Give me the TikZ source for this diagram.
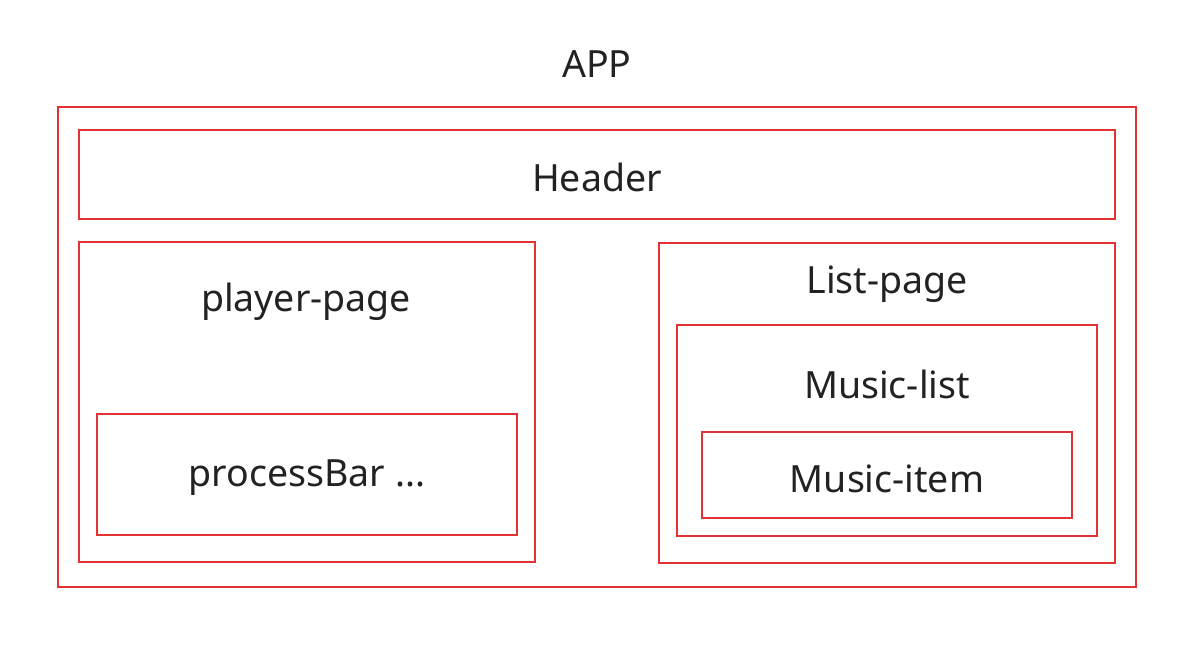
\documentclass[tikz,border=0pt]{standalone}
\usepackage{fontspec}
\setmainfont{Noto Sans}
\definecolor{framered}{RGB}{226,50,50}
\definecolor{inkgray}{RGB}{34,34,34}
\begin{document}
\begin{tikzpicture}[x=1pt,y=-1pt,
  frame/.style={draw=framered,line width=1.8pt,rectangle,inner sep=0pt},
  caption/.style={font=\fontsize{37.5}{40}\selectfont,text=inkgray,inner sep=0pt}]
\useasboundingbox (0,0) rectangle (1192,646);
% nested component boxes
\node[frame,minimum width=1078pt,minimum height=480pt] (app) at (597,347) {};
\node[frame,minimum width=1036pt,minimum height=89pt] (header) at (597,174.5) {};
\node[frame,minimum width=456pt,minimum height=320pt] (player) at (307,402) {};
\node[frame,minimum width=420pt,minimum height=121pt] (bar) at (307,474.5) {};
\node[frame,minimum width=456pt,minimum height=320pt] (listpage) at (887,403) {};
\node[frame,minimum width=420pt,minimum height=211pt] (musiclist) at (887,430.5) {};
\node[frame,minimum width=370pt,minimum height=86pt] (musicitem) at (887,475) {};
% titles
\node[caption] (apptitle) at (597,64) {APP};
\node[caption] (headertitle) at (597,177.5) {Header};
\node[caption] (playertitle) at (306,301.5) {player-page};
\node[caption] (bartitle) at (307,478) {processBar ...};
\node[caption] (listtitle) at (887,284.5) {List-page};
\node[caption] (musiclisttitle) at (887,384) {Music-list};
\node[caption] (musicitemtitle) at (887,479) {Music-item};
\end{tikzpicture}
\end{document}
